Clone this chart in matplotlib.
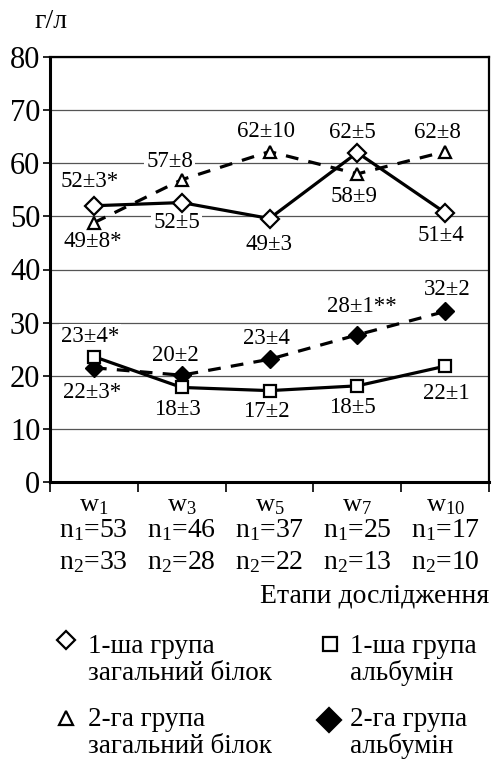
import matplotlib
matplotlib.use("Agg")
import matplotlib.pyplot as plt
from matplotlib.lines import Line2D

plt.rcParams['font.family'] = ['Liberation Serif', 'DejaVu Serif']
plt.rcParams['mathtext.fontset'] = 'custom'
plt.rcParams['mathtext.rm'] = 'Liberation Serif'

# data
stages = ['w$\\mathregular{_1}$', 'w$\\mathregular{_3}$', 'w$\\mathregular{_5}$',
          'w$\\mathregular{_7}$', 'w$\\mathregular{_{10}}$']
n1 = [53, 46, 37, 25, 17]
n2 = [33, 28, 22, 13, 10]

g1_total = [52.0, 52.6, 49.6, 62.0, 50.7]
g2_total = [48.8, 56.9, 62.2, 58.0, 62.2]
g1_alb = [23.6, 17.8, 17.2, 18.1, 21.8]
g2_alb = [21.5, 20.1, 23.1, 27.7, 32.1]

g1_total_lbl = ['52±3*', '52±5', '49±3', '62±5', '51±4']
g2_total_lbl = ['49±8*', '57±8', '62±10', '58±9', '62±8']
g1_alb_lbl = ['23±4*', '18±3', '17±2', '18±5', '22±1']
g2_alb_lbl = ['22±3*', '20±2', '23±4', '28±1**', '32±2']

# label offsets in pixels (layout only)
g1_total_off = [(-4, 24), (-5, -20), (0, -26), (-5, 20), (-4, -23)]
g2_total_off = [(-1, -19), (-12, 18), (-3, 20), (-3, -23), (-8, 19)]
g1_alb_off = [(-4, 20), (-4, -22), (-3, -21), (-5, -22), (1, -27)]
g2_alb_off = [(-2, -25), (-6, 20), (-3, 21), (5, 28), (2, 22)]

fig = plt.figure(figsize=(4.92, 7.6), dpi=100)
W, H = 492, 760
ax = fig.add_axes([50 / W, 1 - 482 / H, (489 - 50) / W, (482 - 57) / H])

x = list(range(len(stages)))
lw = 2.3
ax.plot(x, g2_total, '--', color='black', lw=lw, dashes=(4, 3.2), zorder=3,
        marker='^', ms=8.5, mfc='white', mec='black', mew=1.6)
ax.plot(x, g2_alb, '--', color='black', lw=lw, dashes=(4, 3.2), zorder=3,
        marker='D', ms=9.5, mfc='black', mec='black', mew=1.0)
ax.plot(x, g1_total, '-', color='black', lw=lw, zorder=4,
        marker='D', ms=9.5, mfc='white', mec='black', mew=1.6)
ax.plot(x, g1_alb, '-', color='black', lw=lw, zorder=4,
        marker='s', ms=9, mfc='white', mec='black', mew=1.6)

for vals, lbls, offs in [(g1_total, g1_total_lbl, g1_total_off),
                         (g2_total, g2_total_lbl, g2_total_off),
                         (g1_alb, g1_alb_lbl, g1_alb_off),
                         (g2_alb, g2_alb_lbl, g2_alb_off)]:
    for i, (v, t, o) in enumerate(zip(vals, lbls, offs)):
        ax.annotate(t, xy=(i, v), xytext=o, textcoords='offset pixels',
                    ha='center', va='center', fontsize=16.5, zorder=2.5,
                    bbox=dict(facecolor='white', edgecolor='none', pad=1.5))

ax.set_xlim(-0.5, len(stages) - 0.5)
ax.set_ylim(0, 80)
ax.set_yticks(range(0, 81, 10))
ax.tick_params(axis='y', labelsize=22, length=5, width=1.2, direction='out', pad=2)
ax.set_xticks(x)
ax.set_xticklabels([])
ax.tick_params(axis='x', which='major', length=0)
ax.set_xticks([i - 0.5 for i in range(len(stages) + 1)], minor=True)
ax.tick_params(axis='x', which='minor', length=7, width=1.2, direction='out')
ax.grid(axis='y', color='#555555', lw=0.9, zorder=1)
ax.set_axisbelow(True)
for s in ['left', 'bottom']:
    ax.spines[s].set_linewidth(2.2)
for s in ['top', 'right']:
    ax.spines[s].set_linewidth(1.6)

# category labels under the axis
for i in x:
    for txt, dy, fs in [(stages[i], -29, 19),
                        ('n$\\mathregular{_1}$=%d' % n1[i], -55, 20),
                        ('n$\\mathregular{_2}$=%d' % n2[i], -87, 20)]:
        ax.annotate(txt, xy=(i, 0), xycoords=('data', 'axes fraction'),
                    xytext=(0, dy), textcoords='offset pixels',
                    ha='center', va='baseline', fontsize=fs, annotation_clip=False)

fig.text(51 / W, 1 - 28 / H, 'г/л', ha='center', va='baseline', fontsize=20)
fig.text(489 / W, 1 - 602 / H, 'Етапи дослідження', ha='right', va='baseline', fontsize=20)

# legend drawn by hand
legend_items = [
    (66, 640, 88, 653, 'D', 'white', 9.5, '1-ша група', 'загальний білок'),
    (66, 718, 88, 726, '^', 'white', 10, '2-га група', 'загальний білок'),
    (330, 644, 350, 653, 's', 'white', 10.5, '1-ша група', 'альбумін'),
    (329, 720, 350, 726, 'D', 'black', 12.5, '2-га група', 'альбумін'),
]
for mx, my, tx, ty, m, fc, ms, l1, l2 in legend_items:
    fig.add_artist(Line2D([mx / W], [1 - my / H], transform=fig.transFigure,
                          marker=m, ms=ms, mfc=fc, mec='black', mew=1.6,
                          linestyle='none'))
    fig.text(tx / W, 1 - ty / H, l1, ha='left', va='baseline', fontsize=19.5)
    fig.text(tx / W, 1 - (ty + 27) / H, l2, ha='left', va='baseline', fontsize=19.5)

fig.savefig('out.png', dpi=100)
